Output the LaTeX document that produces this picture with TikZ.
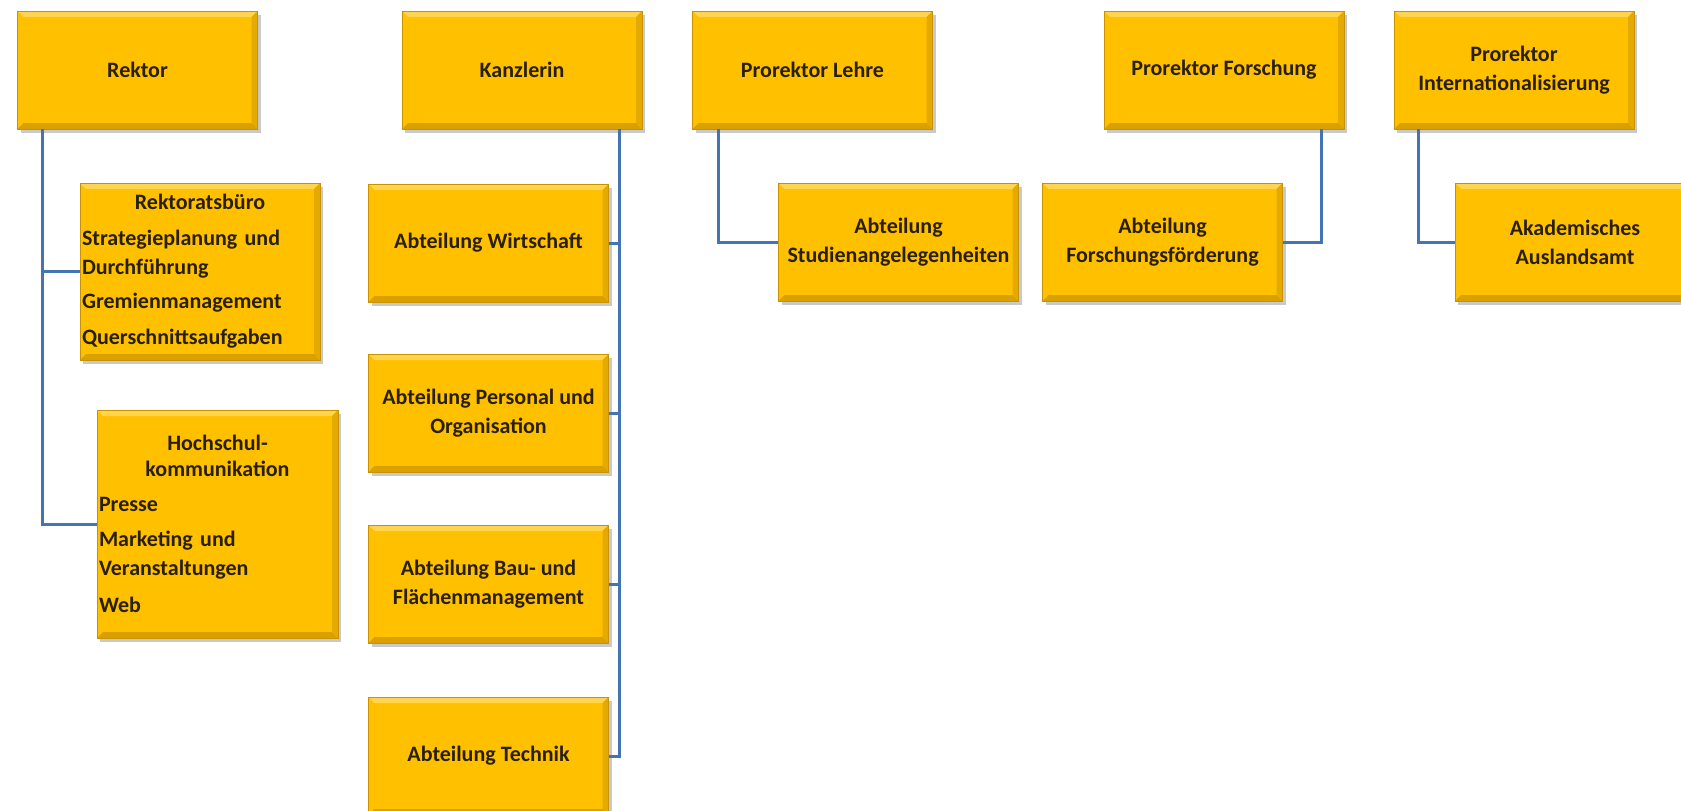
\documentclass[tikz,border=0pt]{standalone}
\usepackage{fontspec}
\setmainfont{Carlito}
\usetikzlibrary{shadows}
\definecolor{boxfill}{HTML}{FFC000}
\definecolor{boxlight}{HTML}{FFD54F}
\definecolor{boxdark}{HTML}{D9A000}
\definecolor{boxedge}{HTML}{C89200}
\definecolor{txt}{HTML}{2A2000}
\definecolor{linkblue}{HTML}{4474B4}
\newcommand{\boxfont}{\bfseries\fontsize{22}{29}\selectfont}
\tikzset{
  orgbox/.style={draw=boxedge, line width=0.8pt, fill=boxfill,
    minimum width=240pt, minimum height=118pt, inner sep=2pt,
    font=\boxfont, text=txt, align=center,
    drop shadow={shadow xshift=3pt, shadow yshift=-4pt, opacity=0.35, fill=black!60},
    path picture={
      \fill[boxlight] (path picture bounding box.north west) -- (path picture bounding box.north east)
        -- ([xshift=-6pt,yshift=-6pt]path picture bounding box.north east)
        -- ([xshift=6pt,yshift=-6pt]path picture bounding box.north west) -- cycle;
      \fill[boxdark] (path picture bounding box.south west) -- (path picture bounding box.south east)
        -- ([xshift=-6pt,yshift=6pt]path picture bounding box.south east)
        -- ([xshift=6pt,yshift=6pt]path picture bounding box.south west) -- cycle;
      \fill[boxdark!70!boxfill] (path picture bounding box.north east) -- (path picture bounding box.south east)
        -- ([xshift=-6pt,yshift=6pt]path picture bounding box.south east)
        -- ([xshift=-6pt,yshift=-6pt]path picture bounding box.north east) -- cycle;
    }},
  link/.style={draw=linkblue, line width=3pt}
}
\begin{document}
\begin{tikzpicture}[x=1pt,y=-1pt]
\useasboundingbox (0,0) rectangle (1681,811);
\fill[white] (0,0) rectangle (1681,811);

% top row
\node[orgbox] (rektor) at (137.5,70) {Rektor};
\node[orgbox] (kanzlerin) at (522,70) {Kanzlerin};
\node[orgbox] (plehre) at (812.5,70) {Prorektor Lehre};
\node[orgbox] (pforsch) at (1224,70) {Prorektor Forschung};
\node[orgbox] (pintl) at (1514,70) {Prorektor\\Internationalisierung};

% Rektor column
\node[orgbox, minimum height=177pt, text width=236pt, align=left] (rbuero) at (200,271.5)
  {\makebox[\hsize]{Rektoratsbüro}\\[7pt]Strategieplanung und\\Durchführung\\[5pt]Gremienmanagement\\[7pt]Querschnittsaufgaben\\[-8pt]};
\node[orgbox, minimum height=228pt, text width=237pt, align=left] (hkomm) at (217.5,524)
  {\makebox[\hsize]{Hochschul-}\\[-3pt]\makebox[\hsize]{kommunikation}\\[6pt]Presse\\[6pt]Marketing und\\Veranstaltungen\\[8pt]Web\\[-6pt]};

% Kanzlerin column
\node[orgbox] (wirt) at (488.5,243) {Abteilung Wirtschaft};
\node[orgbox] (pers) at (488.5,413) {Abteilung Personal und\\Organisation};
\node[orgbox] (bau) at (488.5,584) {Abteilung Bau- und\\Flächenmanagement};
\node[orgbox] (tech) at (488.5,756) {Abteilung Technik};

% Prorektoren
\node[orgbox] (studien) at (898.5,242) {Abteilung\\Studienangelegenheiten};
\node[orgbox] (forsch) at (1162.5,242) {Abteilung\\Forschungsförderung};
\node[orgbox] (ausland) at (1575,242) {Akademisches\\Auslandsamt};

% connector columns
\coordinate (rx) at (42,0);
\coordinate (kx) at (619,0);
\coordinate (lx) at (718,0);
\coordinate (fx) at (1321,0);
\coordinate (ix) at (1418,0);

\draw[link] (rektor.south -| rx) |- (hkomm.west);
\draw[link] (rbuero.west -| rx) -- (rbuero.west);

\draw[link] (kanzlerin.south -| kx) |- (tech.east);
\draw[link] (wirt.east) -- (wirt.east -| kx);
\draw[link] (pers.east) -- (pers.east -| kx);
\draw[link] (bau.east) -- (bau.east -| kx);

\draw[link] (plehre.south -| lx) |- (studien.west);
\draw[link] (pforsch.south -| fx) |- (forsch.east);
\draw[link] (pintl.south -| ix) |- (ausland.west);
\end{tikzpicture}
\end{document}
